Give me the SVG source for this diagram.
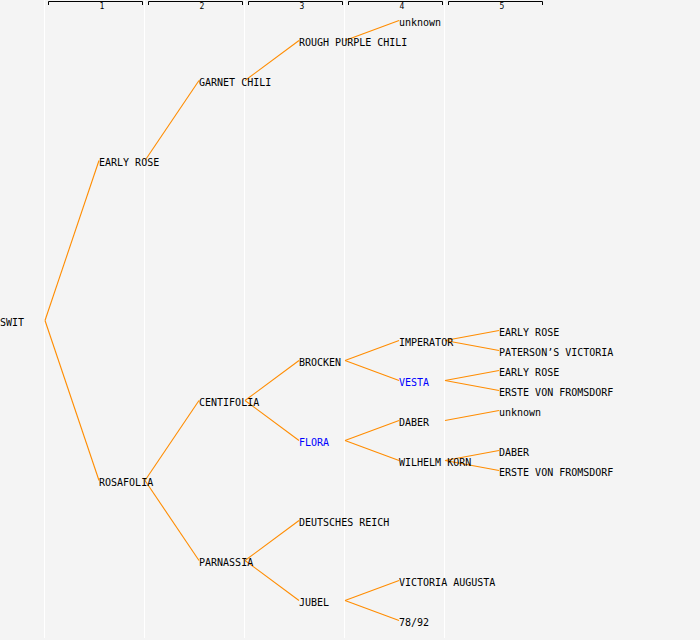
<svg xmlns="http://www.w3.org/2000/svg" width="700" height="640" viewBox="0 0 700 640">
<style>
.bg{fill:#f4f4f4}
.col{fill:#ffffff}
.br{fill:none;stroke:#000;stroke-width:1}
.hd{font-family:"DejaVu Sans Mono",monospace;font-size:8px;fill:#000;text-anchor:middle}
.t{font-family:"DejaVu Sans Mono","Liberation Mono",monospace;font-size:10px;fill:#000}
.b{fill:#0000ff}
#edges line{stroke:#ff8c00;stroke-width:1.1}
</style>
<rect class="bg" x="0" y="0" width="700" height="640"/>
<g id="grid">
<rect class="col" x="44" y="0" width="1" height="638"/>
<rect class="col" x="144" y="0" width="1" height="638"/>
<rect class="col" x="244" y="0" width="1" height="638"/>
<rect class="col" x="344" y="0" width="1" height="638"/>
<rect class="col" x="444" y="0" width="1" height="638"/>
</g>
<g id="header">
<path class="br" d="M48.5,5 V1.5 H142.5 V5"/>
<path class="br" d="M148.5,5 V1.5 H242.5 V5"/>
<path class="br" d="M248.5,5 V1.5 H342.5 V5"/>
<path class="br" d="M348.5,5 V1.5 H442.5 V5"/>
<path class="br" d="M448.5,5 V1.5 H542.5 V5"/>
<text class="hd" x="102" y="9">1</text>
<text class="hd" x="202" y="9">2</text>
<text class="hd" x="302" y="9">3</text>
<text class="hd" x="402" y="9">4</text>
<text class="hd" x="502" y="9">5</text>
</g>
<g id="edges">
<line x1="45" y1="320.5" x2="99" y2="160.5"/>
<line x1="45" y1="320.5" x2="99" y2="480.5"/>
<line x1="145" y1="160.5" x2="199" y2="80.5"/>
<line x1="245" y1="80.5" x2="299" y2="40.5"/>
<line x1="345" y1="40.5" x2="399" y2="20.5"/>
<line x1="145" y1="480.5" x2="199" y2="400.5"/>
<line x1="145" y1="480.5" x2="199" y2="560.5"/>
<line x1="245" y1="400.5" x2="299" y2="360.5"/>
<line x1="245" y1="400.5" x2="299" y2="440.5"/>
<line x1="345" y1="360.5" x2="399" y2="340.5"/>
<line x1="345" y1="360.5" x2="399" y2="380.5"/>
<line x1="445" y1="340.5" x2="499" y2="330.5"/>
<line x1="445" y1="340.5" x2="499" y2="350.5"/>
<line x1="445" y1="380.5" x2="499" y2="370.5"/>
<line x1="445" y1="380.5" x2="499" y2="390.5"/>
<line x1="345" y1="440.5" x2="399" y2="420.5"/>
<line x1="345" y1="440.5" x2="399" y2="460.5"/>
<line x1="445" y1="420.5" x2="499" y2="410.5"/>
<line x1="445" y1="460.5" x2="499" y2="450.5"/>
<line x1="445" y1="460.5" x2="499" y2="470.5"/>
<line x1="245" y1="560.5" x2="299" y2="520.5"/>
<line x1="245" y1="560.5" x2="299" y2="600.5"/>
<line x1="345" y1="600.5" x2="399" y2="580.5"/>
<line x1="345" y1="600.5" x2="399" y2="620.5"/>
</g>
<g id="n-swit"><text class="t" x="0" y="326">SWIT</text></g>
<g id="n-early-rose"><text class="t" x="99" y="166">EARLY ROSE</text></g>
<g id="n-rosafolia"><text class="t" x="99" y="486">ROSAFOLIA</text></g>
<g id="n-garnet-chili"><text class="t" x="199" y="86">GARNET CHILI</text></g>
<g id="n-centifolia"><text class="t" x="199" y="406">CENTIFOLIA</text></g>
<g id="n-parnassia"><text class="t" x="199" y="566">PARNASSIA</text></g>
<g id="n-rough-purple-chili"><text class="t" x="299" y="46">ROUGH PURPLE CHILI</text></g>
<g id="n-brocken"><text class="t" x="299" y="366">BROCKEN</text></g>
<g id="n-flora"><text class="t b" x="299" y="446">FLORA</text></g>
<g id="n-deutsches-reich"><text class="t" x="299" y="526">DEUTSCHES REICH</text></g>
<g id="n-jubel"><text class="t" x="299" y="606">JUBEL</text></g>
<g id="n-unknown-1"><text class="t" x="399" y="26">unknown</text></g>
<g id="n-imperator"><text class="t" x="399" y="346">IMPERATOR</text></g>
<g id="n-vesta"><text class="t b" x="399" y="386">VESTA</text></g>
<g id="n-daber-1"><text class="t" x="399" y="426">DABER</text></g>
<g id="n-wilhelm-korn"><text class="t" x="399" y="466">WILHELM KORN</text></g>
<g id="n-victoria-augusta"><text class="t" x="399" y="586">VICTORIA AUGUSTA</text></g>
<g id="n-78-92"><text class="t" x="399" y="626">78/92</text></g>
<g id="n-early-rose-2"><text class="t" x="499" y="336">EARLY ROSE</text></g>
<g id="n-patersons-victoria"><text class="t" x="499" y="356">PATERSON’S VICTORIA</text></g>
<g id="n-early-rose-3"><text class="t" x="499" y="376">EARLY ROSE</text></g>
<g id="n-erste-1"><text class="t" x="499" y="396">ERSTE VON FROMSDORF</text></g>
<g id="n-unknown-2"><text class="t" x="499" y="416">unknown</text></g>
<g id="n-daber-2"><text class="t" x="499" y="456">DABER</text></g>
<g id="n-erste-2"><text class="t" x="499" y="476">ERSTE VON FROMSDORF</text></g>
</svg>
